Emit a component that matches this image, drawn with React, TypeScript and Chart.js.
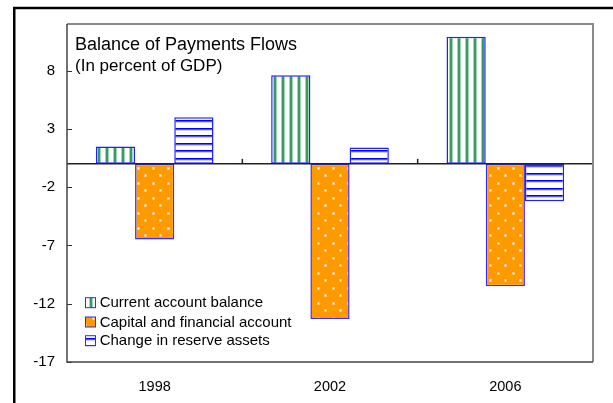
import React, { useEffect, useRef } from 'react';
import { Chart, registerables } from 'chart.js';

Chart.register(...registerables);

const years = ['1998', '2002', '2006'];
const currentAccount = [1.5, 7.6, 10.9];
const capitalFinancial = [-6.5, -13.3, -10.5];
const reserveChange = [4.0, 1.4, -3.2];
const seriesNames = ['Current account balance', 'Capital and financial account', 'Change in reserve assets'];
const yTickValues = [-17, -12, -7, -2, 3, 8];
const yMin = -17;
const yMax = 12;
const chartTitle = 'Balance of Payments Flows';
const chartSubtitle = '(In percent of GDP)';

const FONT = '"Liberation Sans", Arial, sans-serif';

function makeTile(w: number, h: number, draw: (g: CanvasRenderingContext2D) => void) {
  const c = document.createElement('canvas');
  c.width = w;
  c.height = h;
  const g = c.getContext('2d') as CanvasRenderingContext2D;
  draw(g);
  return c;
}

export default function App() {
  const ref = useRef<HTMLCanvasElement | null>(null);

  useEffect(() => {
    const canvas = ref.current;
    if (!canvas) return;
    const ctx = canvas.getContext('2d') as CanvasRenderingContext2D;

    const greenTile = makeTile(8, 8, (g) => {
      g.fillStyle = '#ffffff';
      g.fillRect(0, 0, 8, 8);
      g.fillStyle = '#9fd4b5';
      g.fillRect(1, 0, 1, 8);
      g.fillRect(4, 0, 1, 8);
      g.fillStyle = '#3a9a67';
      g.fillRect(2, 0, 2, 8);
    });
    const orangeTile = makeTile(15, 15, (g) => {
      g.fillStyle = '#ff9900';
      g.fillRect(0, 0, 15, 15);
      g.fillStyle = 'rgba(255,255,255,0.45)';
      g.fillRect(2, 2, 3, 3);
      g.fillRect(9, 9, 3, 3);
      g.fillStyle = '#ffffff';
      g.fillRect(3, 3, 1, 1);
      g.fillRect(10, 10, 1, 1);
    });
    const blueTile = makeTile(8, 15, (g) => {
      g.fillStyle = '#ffffff';
      g.fillRect(0, 0, 8, 15);
      g.fillStyle = '#0000ff';
      g.fillRect(0, 0, 8, 1);
      g.fillRect(0, 8, 8, 1);
      g.fillStyle = '#5555ff';
      g.fillRect(0, 1, 8, 1);
      g.fillRect(0, 9, 8, 1);
      g.fillStyle = '#d0d0ff';
      g.fillRect(0, 2, 8, 1);
      g.fillRect(0, 10, 8, 1);
    });
    const greenPat = ctx.createPattern(greenTile, 'repeat') as CanvasPattern;
    const orangePat = ctx.createPattern(orangeTile, 'repeat') as CanvasPattern;
    const bluePat = ctx.createPattern(blueTile, 'repeat') as CanvasPattern;
    const fills = [greenPat, orangePat, bluePat];

    const decor = {
      id: 'decor',
      beforeDraw(chart: any) {
        const c = chart.ctx;
        c.save();
        c.fillStyle = '#ffffff';
        c.fillRect(0, 0, chart.width, chart.height);
        c.strokeStyle = '#000000';
        c.lineWidth = 2.5;
        c.beginPath();
        c.moveTo(14.25, chart.height + 2);
        c.lineTo(14.25, 8);
        c.lineTo(chart.width + 2, 8);
        c.stroke();
        c.restore();
      },
      afterDatasetsDraw(chart: any) {
        const c = chart.ctx;
        const a = chart.chartArea;
        const ys = chart.scales.y;
        const xs = chart.scales.x;
        c.save();
        // zero line
        const y0 = ys.getPixelForValue(0);
        c.strokeStyle = '#222222';
        c.lineWidth = 1.5;
        c.beginPath();
        c.moveTo(a.left, y0);
        c.lineTo(a.right, y0);
        c.stroke();
        // category boundary ticks on zero line
        for (let i = 0; i < years.length - 1; i++) {
          const xb = (xs.getPixelForValue(i) + xs.getPixelForValue(i + 1)) / 2;
          c.beginPath();
          c.moveTo(xb, y0);
          c.lineTo(xb, y0 - 5);
          c.stroke();
        }
        // inner y ticks
        c.strokeStyle = '#333333';
        c.lineWidth = 1;
        yTickValues.forEach((v) => {
          const py = Math.round(ys.getPixelForValue(v)) + 0.5;
          c.beginPath();
          c.moveTo(a.left, py);
          c.lineTo(a.left + 5, py);
          c.stroke();
        });
        // plot border
        c.strokeStyle = '#8a8a8a';
        c.lineWidth = 2;
        c.beginPath();
        c.moveTo(a.left, a.top);
        c.lineTo(a.right, a.top);
        c.lineTo(a.right, a.bottom);
        c.stroke();
        c.strokeStyle = '#444444';
        c.lineWidth = 1.5;
        c.beginPath();
        c.moveTo(a.left, a.top);
        c.lineTo(a.left, a.bottom);
        c.lineTo(a.right, a.bottom);
        c.stroke();
        // title
        c.fillStyle = '#000000';
        c.textAlign = 'left';
        c.textBaseline = 'alphabetic';
        c.font = `18px ${FONT}`;
        c.fillText(chartTitle, a.left + 8, 50);
        c.font = `17px ${FONT}`;
        c.fillText(chartSubtitle, a.left + 8, 70.5);
        // legend
        const legendY = [302.7, 322, 340.7];
        c.font = `15px ${FONT}`;
        c.textBaseline = 'middle';
        chart.data.datasets.forEach((ds: any, i: number) => {
          const cy = legendY[i];
          const bx = 85.5;
          const by = cy - 5;
          c.fillStyle = fills[i];
          c.fillRect(bx, by, 10, 10);
          c.strokeStyle = '#2a2aff';
          c.lineWidth = 1;
          c.strokeRect(bx, by, 10, 10);
          c.fillStyle = '#000000';
          c.fillText(ds.label, 99.7, cy + 0.5);
        });
        c.restore();
      },
    };

    const chart = new Chart(ctx, {
      type: 'bar',
      data: {
        labels: years,
        datasets: [
          { label: seriesNames[0], data: currentAccount, backgroundColor: greenPat, borderColor: '#1f1fff', borderWidth: 1.5, borderSkipped: false },
          { label: seriesNames[1], data: capitalFinancial, backgroundColor: orangePat, borderColor: '#3a2aff', borderWidth: 1.5, borderSkipped: false },
          { label: seriesNames[2], data: reserveChange, backgroundColor: bluePat, borderColor: '#1f1fff', borderWidth: 1.5, borderSkipped: false },
        ],
      },
      options: {
        responsive: false,
        animation: false,
        events: [],
        layout: { padding: { left: 0, top: 24, right: 20, bottom: 0 } },
        plugins: { legend: { display: false }, tooltip: { enabled: false }, title: { display: false } },
        datasets: { bar: { categoryPercentage: 0.671, barPercentage: 1 } },
        scales: {
          x: {
            grid: { display: false, drawTicks: false },
            border: { display: false },
            ticks: { color: '#000000', font: { family: FONT, size: 14.5 }, padding: 16, maxRotation: 0 },
            afterFit: (s: any) => { s.height = 41; },
          },
          y: {
            min: yMin,
            max: yMax,
            grid: { display: false, drawTicks: false },
            border: { display: false },
            ticks: { color: '#000000', font: { family: FONT, size: 15 }, padding: 12 },
            afterBuildTicks: (s: any) => { s.ticks = yTickValues.map((v) => ({ value: v })); },
            afterFit: (s: any) => { s.width = 67; },
          },
        },
      },
      plugins: [decor],
    } as any);

    return () => chart.destroy();
  }, []);

  return (
    <div style={{ position: 'absolute', left: 0, top: 0, width: 613, height: 403 }}>
      <canvas ref={ref} width={613} height={403} style={{ display: 'block', width: 613, height: 403 }} />
    </div>
  );
}
